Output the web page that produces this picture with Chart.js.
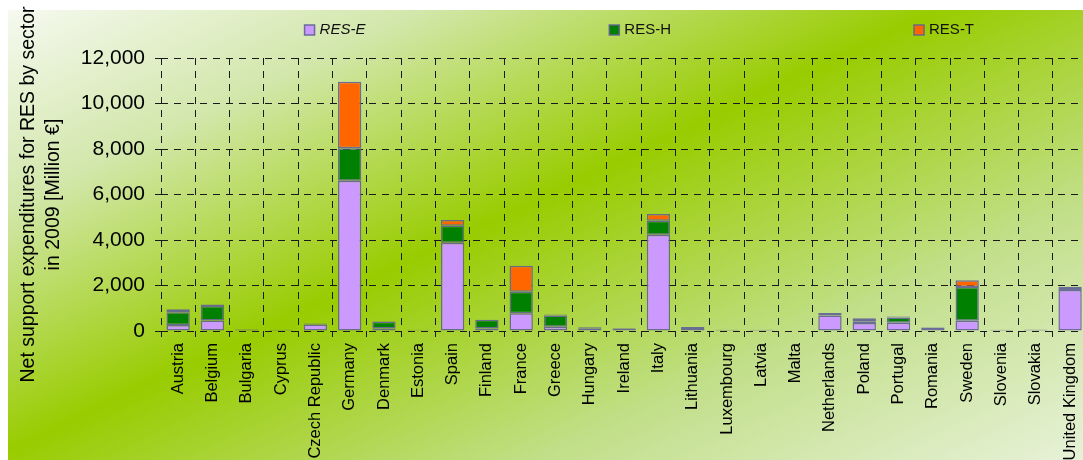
<!DOCTYPE html>
<html>
<head>
<meta charset="utf-8">
<script src="https://cdn.jsdelivr.net/npm/chart.js@4.4.0/dist/chart.umd.min.js"></script>
<style>
  html, body { margin: 0; padding: 0; overflow: hidden; background: #fff; }
  #wrap { width: 1096px; height: 460px; }
</style>
</head>
<body>
<div id="wrap"><canvas id="c" width="1096" height="460"></canvas></div>
<script>
// Net support expenditures for RES by sector, 2009 [Million €]
const countries = ['Austria', 'Belgium', 'Bulgaria', 'Cyprus', 'Czech Republic', 'Germany', 'Denmark', 'Estonia',
  'Spain', 'Finland', 'France', 'Greece', 'Hungary', 'Ireland', 'Italy', 'Lithuania', 'Luxembourg', 'Latvia',
  'Malta', 'Netherlands', 'Poland', 'Portugal', 'Romania', 'Sweden', 'Slovenia', 'Slovakia', 'United Kingdom'];
const resE = [260, 460, 60, 40, 290, 6600, 110, 30, 3880, 110, 780, 190, 120, 110, 4230, 40, 40, 40, 0, 680, 350, 360, 140, 450, 50, 60, 1800];
const resH = [560, 640, 20, 10, 40, 1430, 300, 20, 750, 380, 950, 490, 40, 20, 620, 140, 10, 20, 0, 110, 80, 230, 20, 1480, 0, 10, 90];
const resT = [140, 60, 0, 0, 0, 2930, 20, 0, 250, 10, 1140, 50, 0, 0, 290, 0, 0, 0, 0, 0, 130, 50, 0, 300, 0, 0, 60];

const FONT = '"Liberation Sans", Arial, sans-serif';
const EDGE = 'rgba(96,96,150,0.9)';

// green diagonal backdrop
const bgPlugin = {
  id: 'bg',
  beforeDraw(chart) {
    const { ctx, width, height } = chart;
    ctx.save();
    ctx.fillStyle = '#fff';
    ctx.fillRect(0, 0, width, height);
    const g = ctx.createLinearGradient(8, 10, 388, 810);
    g.addColorStop(0, '#f6f9f0');
    g.addColorStop(0.2, '#d2e7ab');
    g.addColorStop(0.45, '#99cc00');
    g.addColorStop(0.72, '#c2df8a');
    g.addColorStop(1, '#eaf3df');
    ctx.fillStyle = g;
    ctx.fillRect(8, 10, width - 8, height - 10);
    ctx.restore();
  }
};

// legend spread across the top, one column per sector
const legendPlugin = {
  id: 'spreadLegend',
  afterDraw(chart) {
    const { ctx, chartArea: a } = chart;
    const w = a.right - a.left;
    ctx.save();
    chart.data.datasets.forEach((ds, i) => {
      const x = a.left + w * (0.155 + i * 0.329);
      const y = 30;
      ctx.fillStyle = ds.backgroundColor;
      ctx.fillRect(x, y - 5, 10, 10);
      ctx.strokeStyle = ds.borderColor;
      ctx.lineWidth = 1.5;
      ctx.strokeRect(x, y - 5, 10, 10);
      ctx.font = (ds.legendItalic ? 'italic ' : '') + '15px ' + FONT;
      ctx.fillStyle = '#111';
      ctx.textBaseline = 'middle';
      ctx.fillText(ds.label, x + 15, y);
    });
    ctx.restore();
  }
};

const mkSet = (label, data, color, extra) => Object.assign({
  label, data, backgroundColor: color, borderColor: EDGE, borderWidth: 1.5, borderSkipped: false,
  categoryPercentage: 1, barPercentage: 0.68, stack: 's'
}, extra || {});

const gridOpts = { color: '#1a1a1a', lineWidth: 1, tickLength: 6, tickColor: '#1a1a1a' };

new Chart(document.getElementById('c').getContext('2d'), {
  type: 'bar',
  data: {
    labels: countries,
    datasets: [
      mkSet('RES-E', resE, '#cc99ff', { legendItalic: true }),
      mkSet('RES-H', resH, '#008000'),
      mkSet('RES-T', resT, '#ff6600'),
    ]
  },
  options: {
    responsive: false, animation: false, devicePixelRatio: 1,
    layout: { padding: { top: 58, left: 10, right: 6, bottom: 0 } },
    plugins: { legend: { display: false }, tooltip: { enabled: false } },
    scales: {
      x: {
        stacked: true,
        border: { display: false, dash: [7, 6] },
        grid: gridOpts,
        ticks: { color: '#000', autoSkip: false, minRotation: 90, maxRotation: 90, padding: 6, font: { size: 16.5, family: FONT } },
        afterFit: s => { s.height = 129; }
      },
      y: {
        stacked: true, min: 0, max: 12000,
        border: { display: false, dash: [7, 6] },
        grid: gridOpts,
        ticks: { stepSize: 2000, color: '#000', padding: 10, font: { size: 21, family: FONT },
          callback: v => v.toLocaleString('en-US') },
        title: {
          display: true, color: '#000',
          text: ['Net support expenditures for RES by sector', 'in 2009 [Million €]'],
          font: { size: 19.5, family: FONT, lineHeight: 1.28 },
          padding: { top: 6, bottom: 15 }
        },
        afterFit: s => { s.width = 151; }
      }
    }
  },
  plugins: [bgPlugin, legendPlugin]
});
</script>
</body>
</html>
